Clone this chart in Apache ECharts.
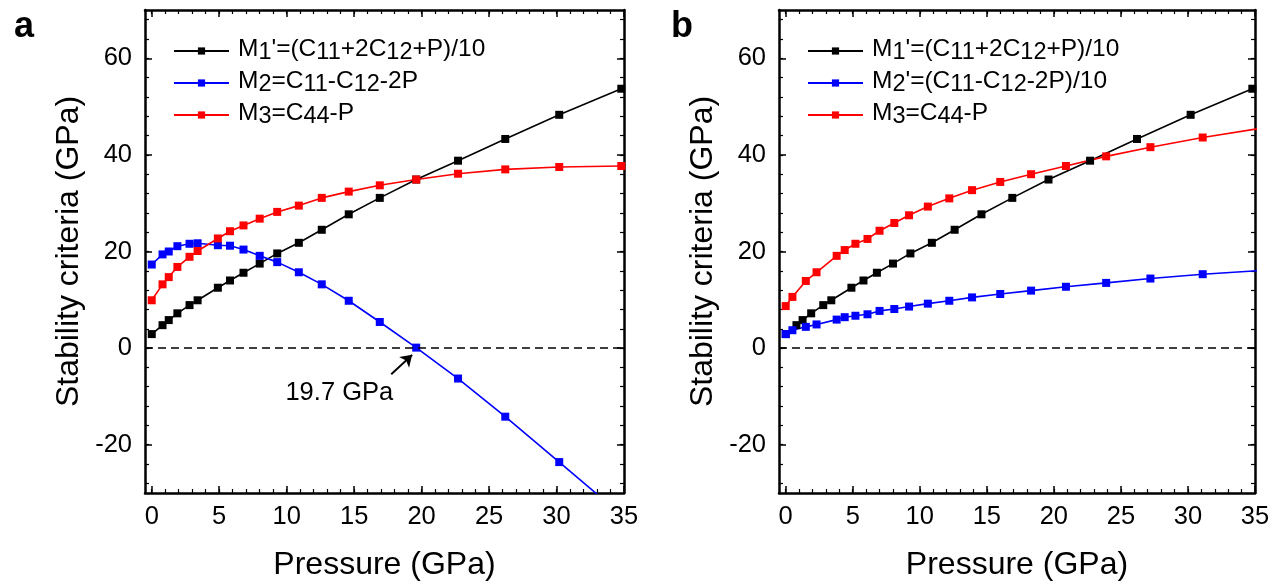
<!DOCTYPE html>
<html>
<head>
<meta charset="utf-8">
<script src="https://cdn.jsdelivr.net/npm/echarts@6/dist/echarts.min.js"></script>
<style>
html,body{margin:0;padding:0;background:#fff;}
#chart{width:1280px;height:587px;}
</style>
</head>
<body>
<div id="chart"></div>
<script>
// ---------- data ----------
// Panel a: pressure grid (GPa)
const pA = [0, 0.8, 1.26, 1.9, 2.8, 3.4, 4.9, 5.8, 6.8, 8.0, 9.3, 10.9, 12.6, 14.6, 16.9, 19.6, 22.7, 26.2, 30.2, 34.8];
const m1A = [2.9, 4.75, 5.8, 7.2, 8.9, 9.9, 12.5, 14.0, 15.6, 17.5, 19.6, 21.8, 24.5, 27.7, 31.1, 34.9, 38.8, 43.3, 48.3, 53.7];
const m2A = [17.3, 19.4, 20.0, 21.1, 21.6, 21.7, 21.3, 21.2, 20.4, 19.1, 17.8, 15.7, 13.2, 9.8, 5.4, 0.1, -6.3, -14.2, -23.6, -34.5];
const m3A = [9.9, 13.2, 14.7, 16.8, 18.9, 20.1, 22.7, 24.2, 25.4, 26.8, 28.2, 29.5, 31.1, 32.4, 33.7, 34.9, 36.1, 37.0, 37.5, 37.7];

// Panel b
const pB1 = [0, 0.8, 1.26, 1.9, 2.8, 3.4, 4.9, 5.8, 6.8, 8.0, 9.3, 10.9, 12.6, 14.6, 16.9, 19.6, 22.7, 26.2, 30.2, 34.8];
const m1B = [2.9, 4.75, 5.8, 7.2, 8.9, 9.9, 12.5, 14.0, 15.6, 17.5, 19.6, 21.8, 24.5, 27.7, 31.1, 34.9, 38.8, 43.3, 48.3, 53.7];
const pB = [0, 0.5, 1.5, 2.3, 3.8, 4.4, 5.2, 6.1, 7.0, 8.1, 9.2, 10.6, 12.2, 13.9, 16.0, 18.3, 20.9, 23.9, 27.2, 31.1, 35.6];
const m2B = [2.9, 3.7, 4.4, 4.9, 5.9, 6.4, 6.7, 7.0, 7.7, 8.1, 8.6, 9.2, 9.8, 10.5, 11.2, 11.9, 12.7, 13.5, 14.4, 15.3, 16.1];
const m3B = [8.7, 10.6, 13.9, 15.7, 19.1, 20.3, 21.6, 22.6, 24.3, 25.9, 27.5, 29.3, 31.0, 32.7, 34.4, 36.0, 37.7, 39.7, 41.6, 43.6, 45.6];

// ticks
const xMajor = [0, 5, 10, 15, 20, 25, 30, 35];
const xMinor = Array.from({length: 36}, (_, i) => i);
const yMajor = [-20, 0, 20, 40, 60];
const yMinor = Array.from({length: 25}, (_, i) => -28 + 4 * i);

// annotation
const annotText = '19.7 GPa';
const annotPos = [13.9, -9.3];
const arrowFrom = [17.75, -5.4];
const arrowTo = [19.3, -1.4];

// ---------- chart ----------
const FONT = '"Liberation Sans", Arial, sans-serif';
const zip = (xs, ys) => xs.map((x, i) => [x, ys[i]]);

function xAxes(g) {
  const base = {gridIndex: g, type: 'value', min: -0.5, max: 35, splitLine: {show: false}};
  return [
    Object.assign({}, base, {
      position: 'bottom',
      axisLine: {show: true, onZero: false, lineStyle: {color: '#000', width: 2.5}},
      axisTick: {show: true, inside: true, length: 7, customValues: xMajor, lineStyle: {color: '#000', width: 1.5}},
      axisLabel: {show: true, customValues: xMajor, fontSize: 25.5, color: '#000', margin: 11, fontFamily: FONT},
      name: 'Pressure (GPa)', nameLocation: 'middle', nameGap: 56,
      nameTextStyle: {fontSize: 32, color: '#000', fontFamily: FONT}
    }),
    Object.assign({}, base, {
      position: 'top',
      axisLine: {show: true, onZero: false, lineStyle: {color: '#000', width: 2.5}},
      axisTick: {show: true, inside: true, length: 7, customValues: xMajor, lineStyle: {color: '#000', width: 1.5}},
      axisLabel: {show: false}
    }),
    Object.assign({}, base, {
      position: 'bottom',
      axisLine: {show: false, onZero: false},
      axisTick: {show: true, inside: true, length: 4, customValues: xMinor, lineStyle: {color: '#000', width: 1.2}},
      axisLabel: {show: false}
    }),
    Object.assign({}, base, {
      position: 'top',
      axisLine: {show: false, onZero: false},
      axisTick: {show: true, inside: true, length: 4, customValues: xMinor, lineStyle: {color: '#000', width: 1.2}},
      axisLabel: {show: false}
    })
  ];
}

function yAxes(g) {
  const base = {gridIndex: g, type: 'value', min: -30, max: 70, splitLine: {show: false}};
  return [
    Object.assign({}, base, {
      position: 'left',
      axisLine: {show: true, onZero: false, lineStyle: {color: '#000', width: 2.5}},
      axisTick: {show: true, inside: true, length: 7, customValues: yMajor, lineStyle: {color: '#000', width: 1.5}},
      axisLabel: {show: true, customValues: yMajor, fontSize: 25.5, color: '#000', margin: 13, fontFamily: FONT},
      name: 'Stability criteria (GPa)', nameLocation: 'middle', nameGap: 60, nameRotate: 90,
      nameTextStyle: {fontSize: 32, color: '#000', fontFamily: FONT}
    }),
    Object.assign({}, base, {
      position: 'right',
      axisLine: {show: true, onZero: false, lineStyle: {color: '#000', width: 2.5}},
      axisTick: {show: true, inside: true, length: 7, customValues: yMajor, lineStyle: {color: '#000', width: 1.5}},
      axisLabel: {show: false}
    }),
    Object.assign({}, base, {
      position: 'left',
      axisLine: {show: false, onZero: false},
      axisTick: {show: true, inside: true, length: 4, customValues: yMinor, lineStyle: {color: '#000', width: 1.2}},
      axisLabel: {show: false}
    }),
    Object.assign({}, base, {
      position: 'right',
      axisLine: {show: false, onZero: false},
      axisTick: {show: true, inside: true, length: 4, customValues: yMinor, lineStyle: {color: '#000', width: 1.2}},
      axisLabel: {show: false}
    })
  ];
}

const legendLabels = {
  m1a: "{sp| }{n|M}{s|1}{n|'=(C}{s|11}{n|+2C}{s|12}{n|+P)/10}",
  m2a: "{sp| }{n|M}{s|2}{n|=C}{s|11}{n|-C}{s|12}{n|-2P}",
  m3a: "{sp| }{n|M}{s|3}{n|=C}{s|44}{n|-P}",
  m1b: "{sp| }{n|M}{s|1}{n|'=(C}{s|11}{n|+2C}{s|12}{n|+P)/10}",
  m2b: "{sp| }{n|M}{s|2}{n|'=(C}{s|11}{n|-C}{s|12}{n|-2P)/10}",
  m3b: "{sp| }{n|M}{s|3}{n|=C}{s|44}{n|-P}"
};
const rich = {
  sp: {width: 4, fontSize: 24},
  n: {fontSize: 24.5, color: '#000', fontFamily: FONT, verticalAlign: 'top', padding: [0, 0, 0, 0]},
  s: {fontSize: 23.5, color: '#000', fontFamily: FONT, verticalAlign: 'top', padding: [4, 0, 0, 0]}
};
function legend(left, names) {
  return {
    left: left, top: 32, orient: 'vertical', itemWidth: 55, itemHeight: 9, itemGap: 4,
    data: names, selectedMode: false,
    formatter: (n) => legendLabels[n],
    textStyle: {rich: rich, fontSize: 24, fontFamily: FONT}
  };
}

function lineSeries(name, g, data, color) {
  return {
    name: name, type: 'line', xAxisIndex: g * 4, yAxisIndex: g * 4, data: data,
    symbol: 'rect', symbolSize: 8, clip: true,
    lineStyle: {color: color, width: 1.6}, itemStyle: {color: color},
    emphasis: {disabled: true}
  };
}

const zeroLine = {
  silent: true, symbol: 'none', label: {show: false},
  lineStyle: {type: [8, 5], color: '#000', width: 1.5},
  data: [{yAxis: 0}]
};

const s1a = lineSeries('m1a', 0, zip(pA, m1A), '#000000');
s1a.markLine = zeroLine;
const s2a = lineSeries('m2a', 0, zip(pA, m2A), '#0000ff');
s2a.markLine = {
  silent: true, symbol: ['none', 'arrow'], symbolSize: 11, label: {show: false},
  lineStyle: {type: 'solid', color: '#000', width: 2},
  data: [[{coord: arrowFrom}, {coord: arrowTo}]]
};
s2a.markPoint = {
  silent: true, symbol: 'circle', symbolSize: 1, itemStyle: {color: 'rgba(0,0,0,0)'},
  label: {show: true, position: 'inside', formatter: annotText, fontSize: 25.5, color: '#000', fontFamily: FONT},
  data: [{coord: annotPos}]
};
const s3a = lineSeries('m3a', 0, zip(pA, m3A), '#ff0000');

const s1b = lineSeries('m1b', 1, zip(pB1, m1B), '#000000');
s1b.markLine = zeroLine;
const s2b = lineSeries('m2b', 1, zip(pB, m2B), '#0000ff');
const s3b = lineSeries('m3b', 1, zip(pB, m3B), '#ff0000');

const chart = echarts.init(document.getElementById('chart'), null, {renderer: 'canvas'});
chart.setOption({
  animation: false,
  backgroundColor: '#fff',
  title: [
    {text: 'a', left: 9, top: 4, textStyle: {fontSize: 36, fontWeight: 'bold', color: '#000', fontFamily: FONT}},
    {text: 'b', left: 666, top: 4, textStyle: {fontSize: 36, fontWeight: 'bold', color: '#000', fontFamily: FONT}}
  ],
  grid: [
    {left: 145, top: 10, width: 479, height: 483, containLabel: false},
    {left: 779, top: 10, width: 476, height: 483, containLabel: false}
  ],
  xAxis: xAxes(0).concat(xAxes(1)),
  yAxis: yAxes(0).concat(yAxes(1)),
  legend: [legend(168, ['m1a', 'm2a', 'm3a']), legend(802, ['m1b', 'm2b', 'm3b'])],
  series: [s1a, s2a, s3a, s1b, s2b, s3b]
});
</script>
</body>
</html>
